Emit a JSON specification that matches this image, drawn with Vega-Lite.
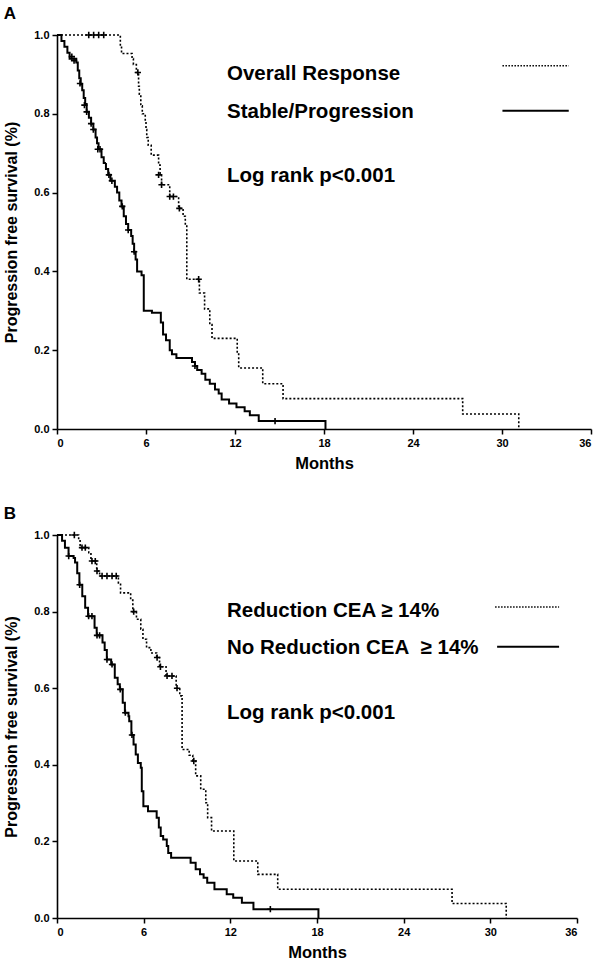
{
  "$schema": "https://vega.github.io/schema/vega-lite/v6.json",
  "padding": {"left": 3, "top": 4, "right": 4, "bottom": 2},
  "spacing": 32,
  "config": {
    "view": {"stroke": null},
    "font": "Liberation Sans",
    "axis": {
      "grid": false,
      "domainColor": "#000",
      "domainWidth": 1.6,
      "tickColor": "#000",
      "tickWidth": 1.5,
      "tickSize": 5,
      "labelFont": "Liberation Sans",
      "labelFontWeight": "bold",
      "labelFontSize": 11,
      "labelColor": "#000",
      "labelPadding": 3,
      "titleFont": "Liberation Sans",
      "titleFontWeight": "bold",
      "titleFontSize": 16,
      "titleColor": "#000"
    },
    "title": {"font": "Liberation Sans", "fontSize": 17, "fontWeight": "bold", "color": "#000", "anchor": "start", "frame": "bounds"}
  },
  "datasets": {
    "a_curves": [
      {"group": "Stable/Progression", "t": 0, "s": 1.0},
      {"group": "Stable/Progression", "t": 0.3, "s": 0.985},
      {"group": "Stable/Progression", "t": 0.5, "s": 0.97},
      {"group": "Stable/Progression", "t": 0.7, "s": 0.955},
      {"group": "Stable/Progression", "t": 0.85, "s": 0.94},
      {"group": "Stable/Progression", "t": 1.3, "s": 0.93},
      {"group": "Stable/Progression", "t": 1.4, "s": 0.91},
      {"group": "Stable/Progression", "t": 1.5, "s": 0.89},
      {"group": "Stable/Progression", "t": 1.6, "s": 0.875},
      {"group": "Stable/Progression", "t": 1.7, "s": 0.86},
      {"group": "Stable/Progression", "t": 1.8, "s": 0.84},
      {"group": "Stable/Progression", "t": 1.9, "s": 0.825},
      {"group": "Stable/Progression", "t": 2.0, "s": 0.805},
      {"group": "Stable/Progression", "t": 2.15, "s": 0.79},
      {"group": "Stable/Progression", "t": 2.3, "s": 0.775},
      {"group": "Stable/Progression", "t": 2.45, "s": 0.76},
      {"group": "Stable/Progression", "t": 2.6, "s": 0.74},
      {"group": "Stable/Progression", "t": 2.7, "s": 0.725},
      {"group": "Stable/Progression", "t": 2.8, "s": 0.71},
      {"group": "Stable/Progression", "t": 3.0, "s": 0.69},
      {"group": "Stable/Progression", "t": 3.15, "s": 0.675},
      {"group": "Stable/Progression", "t": 3.3, "s": 0.66},
      {"group": "Stable/Progression", "t": 3.45, "s": 0.645},
      {"group": "Stable/Progression", "t": 3.6, "s": 0.63},
      {"group": "Stable/Progression", "t": 3.9, "s": 0.615},
      {"group": "Stable/Progression", "t": 4.05, "s": 0.6},
      {"group": "Stable/Progression", "t": 4.2, "s": 0.58},
      {"group": "Stable/Progression", "t": 4.35, "s": 0.565},
      {"group": "Stable/Progression", "t": 4.5, "s": 0.54},
      {"group": "Stable/Progression", "t": 4.65, "s": 0.52},
      {"group": "Stable/Progression", "t": 4.8, "s": 0.505},
      {"group": "Stable/Progression", "t": 5.0, "s": 0.49},
      {"group": "Stable/Progression", "t": 5.1, "s": 0.47},
      {"group": "Stable/Progression", "t": 5.2, "s": 0.45},
      {"group": "Stable/Progression", "t": 5.3, "s": 0.43},
      {"group": "Stable/Progression", "t": 5.4, "s": 0.4},
      {"group": "Stable/Progression", "t": 5.7, "s": 0.39},
      {"group": "Stable/Progression", "t": 5.85, "s": 0.3},
      {"group": "Stable/Progression", "t": 6.4, "s": 0.295},
      {"group": "Stable/Progression", "t": 7.0, "s": 0.27},
      {"group": "Stable/Progression", "t": 7.15, "s": 0.24},
      {"group": "Stable/Progression", "t": 7.35, "s": 0.225},
      {"group": "Stable/Progression", "t": 7.6, "s": 0.2},
      {"group": "Stable/Progression", "t": 7.75, "s": 0.19},
      {"group": "Stable/Progression", "t": 8.05, "s": 0.18},
      {"group": "Stable/Progression", "t": 9.1, "s": 0.17},
      {"group": "Stable/Progression", "t": 9.3, "s": 0.16},
      {"group": "Stable/Progression", "t": 9.45, "s": 0.15},
      {"group": "Stable/Progression", "t": 9.75, "s": 0.14},
      {"group": "Stable/Progression", "t": 10.0, "s": 0.125},
      {"group": "Stable/Progression", "t": 10.3, "s": 0.115},
      {"group": "Stable/Progression", "t": 10.65, "s": 0.1},
      {"group": "Stable/Progression", "t": 10.9, "s": 0.09},
      {"group": "Stable/Progression", "t": 11.1, "s": 0.075},
      {"group": "Stable/Progression", "t": 11.6, "s": 0.065},
      {"group": "Stable/Progression", "t": 12.1, "s": 0.055},
      {"group": "Stable/Progression", "t": 12.65, "s": 0.045},
      {"group": "Stable/Progression", "t": 13.0, "s": 0.035},
      {"group": "Stable/Progression", "t": 13.6, "s": 0.02},
      {"group": "Stable/Progression", "t": 18.1, "s": 0.0},
      {"group": "Overall Response", "t": 0, "s": 1.0},
      {"group": "Overall Response", "t": 4.27, "s": 0.975},
      {"group": "Overall Response", "t": 4.35, "s": 0.953},
      {"group": "Overall Response", "t": 5.06, "s": 0.94},
      {"group": "Overall Response", "t": 5.15, "s": 0.925},
      {"group": "Overall Response", "t": 5.35, "s": 0.905},
      {"group": "Overall Response", "t": 5.5, "s": 0.87},
      {"group": "Overall Response", "t": 5.55, "s": 0.85},
      {"group": "Overall Response", "t": 5.65, "s": 0.82},
      {"group": "Overall Response", "t": 5.75, "s": 0.8},
      {"group": "Overall Response", "t": 5.95, "s": 0.78},
      {"group": "Overall Response", "t": 6.0, "s": 0.76},
      {"group": "Overall Response", "t": 6.05, "s": 0.74},
      {"group": "Overall Response", "t": 6.15, "s": 0.72},
      {"group": "Overall Response", "t": 6.35, "s": 0.695},
      {"group": "Overall Response", "t": 6.85, "s": 0.67},
      {"group": "Overall Response", "t": 6.95, "s": 0.645},
      {"group": "Overall Response", "t": 7.05, "s": 0.62},
      {"group": "Overall Response", "t": 7.6, "s": 0.59},
      {"group": "Overall Response", "t": 8.2, "s": 0.56},
      {"group": "Overall Response", "t": 8.5, "s": 0.54},
      {"group": "Overall Response", "t": 8.65, "s": 0.518},
      {"group": "Overall Response", "t": 8.75, "s": 0.38},
      {"group": "Overall Response", "t": 9.6, "s": 0.345},
      {"group": "Overall Response", "t": 9.95, "s": 0.305},
      {"group": "Overall Response", "t": 10.3, "s": 0.265},
      {"group": "Overall Response", "t": 10.45, "s": 0.23},
      {"group": "Overall Response", "t": 12.15, "s": 0.19},
      {"group": "Overall Response", "t": 12.25, "s": 0.155},
      {"group": "Overall Response", "t": 13.87, "s": 0.115},
      {"group": "Overall Response", "t": 15.24, "s": 0.077},
      {"group": "Overall Response", "t": 27.35, "s": 0.038},
      {"group": "Overall Response", "t": 31.13, "s": 0.0}
    ],
    "a_censor": [
      {"group": "Stable/Progression", "t": 1.0, "s": 0.945},
      {"group": "Stable/Progression", "t": 1.15, "s": 0.935},
      {"group": "Stable/Progression", "t": 1.55, "s": 0.877},
      {"group": "Stable/Progression", "t": 1.85, "s": 0.822},
      {"group": "Stable/Progression", "t": 2.0, "s": 0.805},
      {"group": "Stable/Progression", "t": 2.3, "s": 0.775},
      {"group": "Stable/Progression", "t": 2.45, "s": 0.76},
      {"group": "Stable/Progression", "t": 2.75, "s": 0.71},
      {"group": "Stable/Progression", "t": 2.9, "s": 0.71},
      {"group": "Stable/Progression", "t": 3.5, "s": 0.645},
      {"group": "Stable/Progression", "t": 3.7, "s": 0.63},
      {"group": "Stable/Progression", "t": 4.4, "s": 0.565},
      {"group": "Stable/Progression", "t": 4.8, "s": 0.505},
      {"group": "Stable/Progression", "t": 5.2, "s": 0.45},
      {"group": "Stable/Progression", "t": 9.3, "s": 0.16},
      {"group": "Stable/Progression", "t": 14.7, "s": 0.02},
      {"group": "Overall Response", "t": 2.14, "s": 1.0},
      {"group": "Overall Response", "t": 2.47, "s": 1.0},
      {"group": "Overall Response", "t": 2.81, "s": 1.0},
      {"group": "Overall Response", "t": 3.15, "s": 1.0},
      {"group": "Overall Response", "t": 5.45, "s": 0.905},
      {"group": "Overall Response", "t": 6.85, "s": 0.645},
      {"group": "Overall Response", "t": 7.05, "s": 0.62},
      {"group": "Overall Response", "t": 7.6, "s": 0.59},
      {"group": "Overall Response", "t": 7.85, "s": 0.59},
      {"group": "Overall Response", "t": 8.25, "s": 0.56},
      {"group": "Overall Response", "t": 9.55, "s": 0.38}
    ],
    "a_labels": [
      {"label": "Overall Response", "t": 11.46, "s": 0.886},
      {"label": "Stable/Progression", "t": 11.46, "s": 0.79},
      {"label": "Log rank p<0.001", "t": 11.46, "s": 0.628}
    ],
    "b_labels": [
      {"label": "Reduction CEA ≥ 14%", "t": 11.77, "s": 0.787},
      {"label": "No Reduction CEA\u00a0 ≥ 14%", "t": 11.77, "s": 0.688},
      {"label": "Log rank p<0.001", "t": 11.77, "s": 0.52}
    ],
    "a_keys": [
      {"group": "Overall Response", "t": 30.03, "t2": 34.5, "s": 0.922},
      {"group": "Stable/Progression", "t": 30.03, "t2": 34.5, "s": 0.808}
    ],
    "b_keys": [
      {"group": "Reduction", "t": 30.33, "t2": 34.76, "s": 0.812},
      {"group": "No Reduction", "t": 30.47, "t2": 34.76, "s": 0.708}
    ],
    "b_curves": [
      {"group": "No Reduction", "t": 0, "s": 1.0},
      {"group": "No Reduction", "t": 0.35, "s": 0.985},
      {"group": "No Reduction", "t": 0.55, "s": 0.967},
      {"group": "No Reduction", "t": 0.8, "s": 0.945},
      {"group": "No Reduction", "t": 1.15, "s": 0.94},
      {"group": "No Reduction", "t": 1.25, "s": 0.928},
      {"group": "No Reduction", "t": 1.4, "s": 0.9},
      {"group": "No Reduction", "t": 1.55, "s": 0.87},
      {"group": "No Reduction", "t": 1.75, "s": 0.84},
      {"group": "No Reduction", "t": 1.95, "s": 0.81},
      {"group": "No Reduction", "t": 2.15, "s": 0.788},
      {"group": "No Reduction", "t": 2.6, "s": 0.758},
      {"group": "No Reduction", "t": 2.75, "s": 0.738},
      {"group": "No Reduction", "t": 3.15, "s": 0.719},
      {"group": "No Reduction", "t": 3.3, "s": 0.7},
      {"group": "No Reduction", "t": 3.45, "s": 0.675},
      {"group": "No Reduction", "t": 3.75, "s": 0.662},
      {"group": "No Reduction", "t": 4.0, "s": 0.627},
      {"group": "No Reduction", "t": 4.2, "s": 0.61},
      {"group": "No Reduction", "t": 4.35, "s": 0.597},
      {"group": "No Reduction", "t": 4.55, "s": 0.562},
      {"group": "No Reduction", "t": 4.7, "s": 0.536},
      {"group": "No Reduction", "t": 4.95, "s": 0.527},
      {"group": "No Reduction", "t": 5.0, "s": 0.514},
      {"group": "No Reduction", "t": 5.15, "s": 0.478},
      {"group": "No Reduction", "t": 5.3, "s": 0.453},
      {"group": "No Reduction", "t": 5.45, "s": 0.427},
      {"group": "No Reduction", "t": 5.6, "s": 0.405},
      {"group": "No Reduction", "t": 5.8, "s": 0.392},
      {"group": "No Reduction", "t": 5.87, "s": 0.331},
      {"group": "No Reduction", "t": 5.98, "s": 0.292},
      {"group": "No Reduction", "t": 6.3, "s": 0.279},
      {"group": "No Reduction", "t": 6.9, "s": 0.262},
      {"group": "No Reduction", "t": 7.05, "s": 0.236},
      {"group": "No Reduction", "t": 7.18, "s": 0.214},
      {"group": "No Reduction", "t": 7.35, "s": 0.205},
      {"group": "No Reduction", "t": 7.6, "s": 0.188},
      {"group": "No Reduction", "t": 7.7, "s": 0.17},
      {"group": "No Reduction", "t": 7.9, "s": 0.157},
      {"group": "No Reduction", "t": 9.25, "s": 0.144},
      {"group": "No Reduction", "t": 9.6, "s": 0.127},
      {"group": "No Reduction", "t": 9.9, "s": 0.114},
      {"group": "No Reduction", "t": 10.15, "s": 0.105},
      {"group": "No Reduction", "t": 10.4, "s": 0.092},
      {"group": "No Reduction", "t": 10.9, "s": 0.075},
      {"group": "No Reduction", "t": 11.75, "s": 0.062},
      {"group": "No Reduction", "t": 12.2, "s": 0.053},
      {"group": "No Reduction", "t": 12.8, "s": 0.04},
      {"group": "No Reduction", "t": 13.6, "s": 0.023},
      {"group": "No Reduction", "t": 18.1, "s": 0.0},
      {"group": "Reduction", "t": 0, "s": 1.0},
      {"group": "Reduction", "t": 1.5, "s": 0.985},
      {"group": "Reduction", "t": 1.6, "s": 0.967},
      {"group": "Reduction", "t": 2.2, "s": 0.954},
      {"group": "Reduction", "t": 2.35, "s": 0.932},
      {"group": "Reduction", "t": 2.75, "s": 0.906},
      {"group": "Reduction", "t": 2.95, "s": 0.893},
      {"group": "Reduction", "t": 4.25, "s": 0.875},
      {"group": "Reduction", "t": 4.4, "s": 0.849},
      {"group": "Reduction", "t": 5.1, "s": 0.83},
      {"group": "Reduction", "t": 5.25, "s": 0.8},
      {"group": "Reduction", "t": 5.5, "s": 0.78},
      {"group": "Reduction", "t": 5.8, "s": 0.754},
      {"group": "Reduction", "t": 5.95, "s": 0.728},
      {"group": "Reduction", "t": 6.2, "s": 0.706},
      {"group": "Reduction", "t": 6.5, "s": 0.692},
      {"group": "Reduction", "t": 6.9, "s": 0.68},
      {"group": "Reduction", "t": 7.1, "s": 0.656},
      {"group": "Reduction", "t": 7.55, "s": 0.632},
      {"group": "Reduction", "t": 8.25, "s": 0.6},
      {"group": "Reduction", "t": 8.5, "s": 0.58},
      {"group": "Reduction", "t": 8.66, "s": 0.44},
      {"group": "Reduction", "t": 9.15, "s": 0.425},
      {"group": "Reduction", "t": 9.4, "s": 0.41},
      {"group": "Reduction", "t": 9.6, "s": 0.371},
      {"group": "Reduction", "t": 9.95, "s": 0.336},
      {"group": "Reduction", "t": 10.3, "s": 0.301},
      {"group": "Reduction", "t": 10.43, "s": 0.262},
      {"group": "Reduction", "t": 10.7, "s": 0.227},
      {"group": "Reduction", "t": 12.24, "s": 0.149},
      {"group": "Reduction", "t": 13.9, "s": 0.114},
      {"group": "Reduction", "t": 15.28, "s": 0.075},
      {"group": "Reduction", "t": 27.35, "s": 0.038},
      {"group": "Reduction", "t": 31.1, "s": 0.0}
    ],
    "b_censor": [
      {"group": "No Reduction", "t": 0.81, "s": 0.945},
      {"group": "No Reduction", "t": 1.57, "s": 0.87},
      {"group": "No Reduction", "t": 2.19, "s": 0.788},
      {"group": "No Reduction", "t": 2.42, "s": 0.788},
      {"group": "No Reduction", "t": 2.77, "s": 0.738},
      {"group": "No Reduction", "t": 2.95, "s": 0.738},
      {"group": "No Reduction", "t": 3.46, "s": 0.675},
      {"group": "No Reduction", "t": 3.81, "s": 0.662},
      {"group": "No Reduction", "t": 4.38, "s": 0.597},
      {"group": "No Reduction", "t": 4.73, "s": 0.536},
      {"group": "No Reduction", "t": 5.19, "s": 0.478},
      {"group": "No Reduction", "t": 14.77, "s": 0.023},
      {"group": "Reduction", "t": 1.2, "s": 1.0},
      {"group": "Reduction", "t": 1.73, "s": 0.967},
      {"group": "Reduction", "t": 1.96, "s": 0.967},
      {"group": "Reduction", "t": 2.42, "s": 0.932},
      {"group": "Reduction", "t": 2.65, "s": 0.932},
      {"group": "Reduction", "t": 2.77, "s": 0.906},
      {"group": "Reduction", "t": 3.12, "s": 0.893},
      {"group": "Reduction", "t": 3.46, "s": 0.893},
      {"group": "Reduction", "t": 3.81, "s": 0.893},
      {"group": "Reduction", "t": 4.1, "s": 0.893},
      {"group": "Reduction", "t": 5.31, "s": 0.8},
      {"group": "Reduction", "t": 6.93, "s": 0.68},
      {"group": "Reduction", "t": 7.16, "s": 0.656},
      {"group": "Reduction", "t": 7.62, "s": 0.632},
      {"group": "Reduction", "t": 7.96, "s": 0.632},
      {"group": "Reduction", "t": 8.31, "s": 0.6},
      {"group": "Reduction", "t": 9.47, "s": 0.41}
    ]
  },
  "vconcat": [
    {
      "title": {"text": "A", "offset": 6},
      "width": 534,
      "height": 394,
      "encoding": {
        "x": {"field": "t", "type": "quantitative", "scale": {"domain": [0, 36], "nice": false},
              "axis": {"title": "Months", "values": [0, 6, 12, 18, 24, 30, 36], "titleFontSize": 16.5, "titlePadding": 7}},
        "y": {"field": "s", "type": "quantitative", "scale": {"domain": [0, 1], "nice": false},
              "axis": {"title": "Progression free survival (%)", "values": [0, 0.2, 0.4, 0.6, 0.8, 1.0], "format": ".1f", "titlePadding": 14}}
      },
      "layer": [
        {
          "data": {"name": "a_curves"},
          "mark": {"type": "line", "interpolate": "step-after", "color": "#000"},
          "encoding": {
            "strokeDash": {"field": "group", "type": "nominal", "scale": {"domain": ["Overall Response", "Stable/Progression"], "range": [[2, 2], [1, 0]]}, "legend": null},
            "strokeWidth": {"field": "group", "type": "nominal", "scale": {"domain": ["Overall Response", "Stable/Progression"], "range": [1.6, 2]}, "legend": null}
          }
        },
        {
          "data": {"name": "a_censor"},
          "mark": {"type": "point", "shape": "M-1,0L1,0M0,-1L0,1", "filled": false, "color": "#000", "strokeWidth": 1.6, "size": 40, "opacity": 1}
        },
        {
          "data": {"name": "a_labels"},
          "mark": {"type": "text", "font": "Liberation Sans", "fontWeight": "bold", "fontSize": 20.5, "color": "#000", "align": "left", "baseline": "alphabetic"},
          "encoding": {"text": {"field": "label", "type": "nominal"}}
        },
        {
          "data": {"name": "a_keys"},
          "mark": {"type": "rule", "color": "#000"},
          "encoding": {
            "x2": {"field": "t2"},
            "strokeDash": {"field": "group", "type": "nominal", "scale": {"domain": ["Overall Response", "Stable/Progression"], "range": [[1.5, 1.5], [1, 0]]}, "legend": null},
            "strokeWidth": {"field": "group", "type": "nominal", "scale": {"domain": ["Overall Response", "Stable/Progression"], "range": [1.3, 2]}, "legend": null}
          }
        }
      ],
      "resolve": {"scale": {"strokeDash": "independent", "strokeWidth": "independent"}}
    },
    {
      "title": {"text": "B", "offset": 6},
      "width": 520,
      "height": 383,
      "encoding": {
        "x": {"field": "t", "type": "quantitative", "scale": {"domain": [0, 36], "nice": false},
              "axis": {"title": "Months", "values": [0, 6, 12, 18, 24, 30, 36], "titleFontSize": 16.5, "titlePadding": 7}},
        "y": {"field": "s", "type": "quantitative", "scale": {"domain": [0, 1], "nice": false},
              "axis": {"title": "Progression free survival (%)", "values": [0, 0.2, 0.4, 0.6, 0.8, 1.0], "format": ".1f", "titlePadding": 14}}
      },
      "layer": [
        {
          "data": {"name": "b_curves"},
          "mark": {"type": "line", "interpolate": "step-after", "color": "#000"},
          "encoding": {
            "strokeDash": {"field": "group", "type": "nominal", "scale": {"domain": ["Reduction", "No Reduction"], "range": [[2, 2], [1, 0]]}, "legend": null},
            "strokeWidth": {"field": "group", "type": "nominal", "scale": {"domain": ["Reduction", "No Reduction"], "range": [1.6, 2]}, "legend": null}
          }
        },
        {
          "data": {"name": "b_censor"},
          "mark": {"type": "point", "shape": "M-1,0L1,0M0,-1L0,1", "filled": false, "color": "#000", "strokeWidth": 1.6, "size": 40, "opacity": 1}
        },
        {
          "data": {"name": "b_labels"},
          "mark": {"type": "text", "font": "Liberation Sans", "fontWeight": "bold", "fontSize": 20.5, "color": "#000", "align": "left", "baseline": "alphabetic"},
          "encoding": {"text": {"field": "label", "type": "nominal"}}
        },
        {
          "data": {"name": "b_keys"},
          "mark": {"type": "rule", "color": "#000"},
          "encoding": {
            "x2": {"field": "t2"},
            "strokeDash": {"field": "group", "type": "nominal", "scale": {"domain": ["Reduction", "No Reduction"], "range": [[1.5, 1.5], [1, 0]]}, "legend": null},
            "strokeWidth": {"field": "group", "type": "nominal", "scale": {"domain": ["Reduction", "No Reduction"], "range": [1.3, 2]}, "legend": null}
          }
        }
      ],
      "resolve": {"scale": {"strokeDash": "independent", "strokeWidth": "independent"}}
    }
  ]
}
